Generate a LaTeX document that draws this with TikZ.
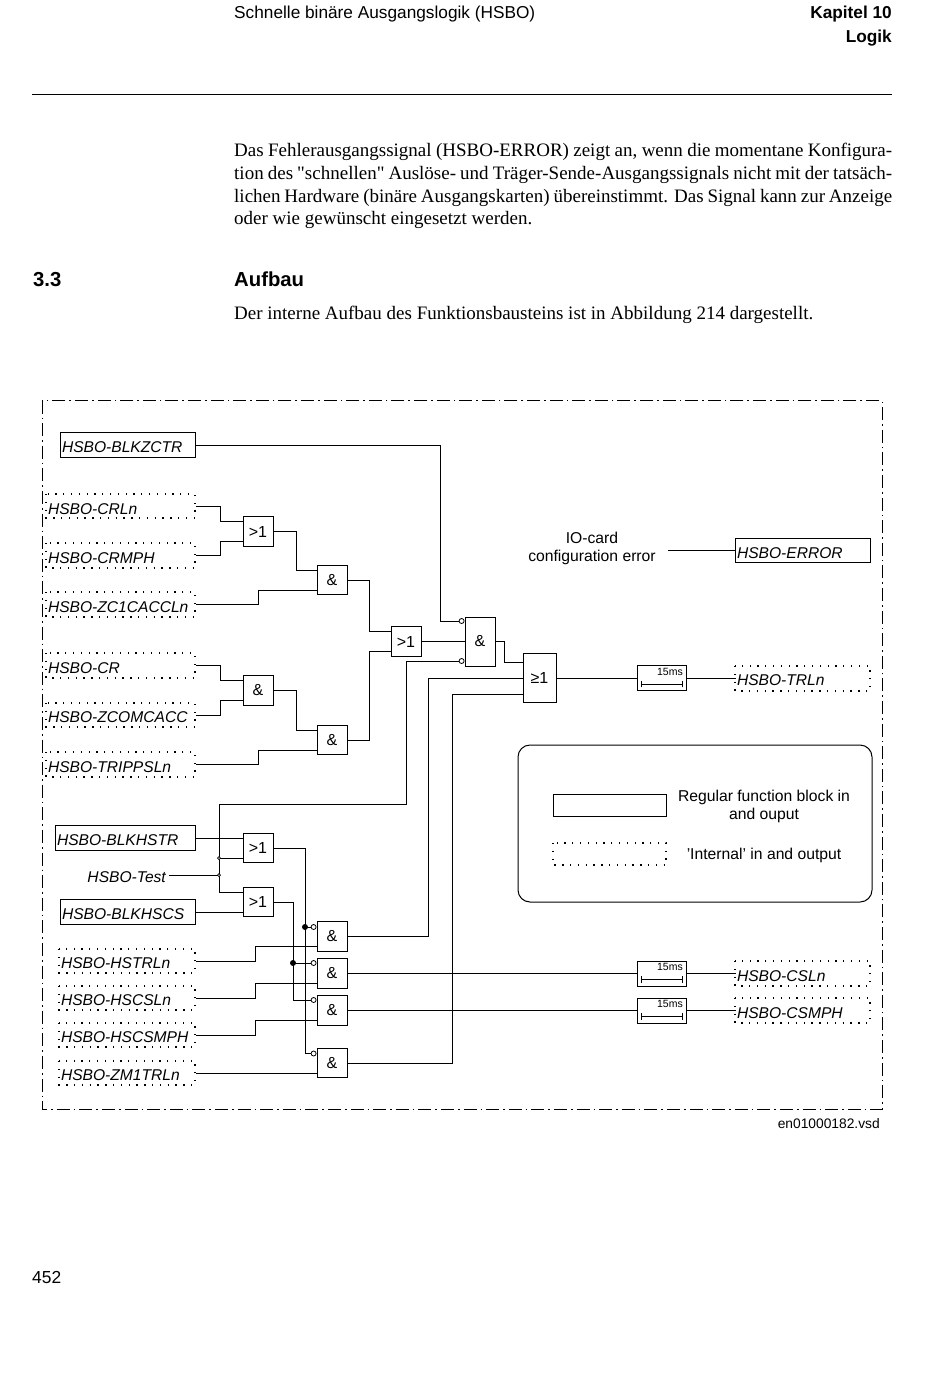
\documentclass[tikz,border=0pt]{standalone}
\usepackage{fontspec}
\setmainfont[Ligatures=TeXOff]{Liberation Serif}
\setsansfont{Liberation Sans}
\usepackage{tikz}
\usetikzlibrary{arrows,positioning}

\begin{document}
\begin{tikzpicture}[
x=1pt,y=-1pt,
font=\sffamily,
wire/.style={line width=1pt,line cap=rect},
gate/.style={draw,line width=1pt,minimum width=30pt,minimum height=29.5pt,inner sep=0pt,font=\sffamily\fontsize{16}{16}\selectfont},
tallgate/.style={gate,minimum height=49pt},
regblock/.style={draw,line width=1pt,anchor=west,minimum height=24.5pt,inner ysep=0pt,inner xsep=1.5pt,text width=#1-3pt,text height=15.2pt,text depth=0pt,align=left,font=\sffamily\itshape\fontsize{15.6}{15.6}\selectfont},
intblock/.style={regblock=#1,draw=none},
dotbox/.style={line width=1.2pt,dash pattern=on 1.3pt off 6.5pt},
timer/.style={draw,line width=1pt,minimum width=49pt,minimum height=25pt,inner sep=0pt},
timetext/.style={anchor=north east,inner sep=0pt,font=\sffamily\fontsize{10.5}{10.5}\selectfont},
timebar/.style={|-|,line width=0.7pt,>=stealth},
inv/.style={circle,draw,fill=white,line width=0.8pt,inner sep=0pt,minimum size=5pt,anchor=east},
opendot/.style={circle,draw,fill=white,line width=0.7pt,inner sep=0pt,minimum size=3pt},
soliddot/.style={circle,fill=black,inner sep=0pt,minimum size=6pt},
plain/.style={inner sep=0pt,font=\sffamily\fontsize{15.7}{18.5}\selectfont},
frame/.style={line width=1pt,dash pattern=on 13pt off 4pt on 1.6pt off 4pt}
]
    \useasboundingbox (0,0) rectangle (950,1378);

    % Page text
    \node (headleft) [anchor=base west,inner sep=0pt,font=\sffamily\fontsize{17.25}{17.25}\selectfont] at (234,18.5) {Schnelle binäre Ausgangslogik (HSBO)};
    \node (chapter) [anchor=base east,inner sep=0pt,font=\sffamily\bfseries\fontsize{17.25}{17.25}\selectfont] at (892,18.5) {Kapitel 10};
    \node (logic) [anchor=base east,inner sep=0pt,font=\sffamily\bfseries\fontsize{17.25}{17.25}\selectfont] at (892,42.5) {Logik};
    \draw[line width=1pt] (32,95) -- (892,95);

    \node (para) [anchor=north west,inner sep=0pt,text width=658pt,align=justify,font=\rmfamily\fontsize{19}{22.8}\selectfont] at (234,143) {Das Fehlerausgangssignal (HSBO-ERROR) zeigt an, wenn die momentane Konfigura-\linebreak tion des "schnellen" Auslöse- und Träger-Sende-Ausgangssignals nicht mit der tatsäch-\linebreak lichen Hardware (binäre Ausgangskarten) übereinstimmt. Das Signal kann zur Anzeige\newline oder wie gewünscht eingesetzt werden.};
    \node (secnum) [anchor=base west,inner sep=0pt,font=\sffamily\bfseries\fontsize{20.3}{20.3}\selectfont] at (33,286) {3.3};
    \node (sectitle) [anchor=base west,inner sep=0pt,font=\sffamily\bfseries\fontsize{20.3}{20.3}\selectfont] at (234,286) {Aufbau};
    \node (intro) [anchor=base west,inner sep=0pt,font=\rmfamily\fontsize{19}{22.8}\selectfont] at (234,319) {Der interne Aufbau des Funktionsbausteins ist in Abbildung 214 dargestellt.};
    \node (pagenum) [anchor=base west,inner sep=0pt,font=\sffamily\fontsize{17.4}{17.4}\selectfont] at (32,1283) {452};
    \node (vsd) [anchor=base east,inner sep=0pt,font=\sffamily\fontsize{13.8}{13.8}\selectfont] at (880,1128) {en01000182.vsd};

    % Outer frame
    \draw[frame] (42,400.5) rectangle (882,1109);

    % Inputs
    \node[regblock=135pt] (blkzctr) at (60,445) {HSBO-BLKZCTR};
    \node[intblock=149pt] (crln) at (46,506.5) {HSBO-CRLn};
    \node[intblock=149pt] (crmph) at (46,555.5) {HSBO-CRMPH};
    \node[intblock=149pt] (zcacc) at (46,604.5) {HSBO-ZC1CACCLn};
    \node[intblock=149pt] (cr) at (46,665.5) {HSBO-CR};
    \node[intblock=149pt] (zcom) at (46,715) {HSBO-ZCOMCACC};
    \node[intblock=149pt] (tripp) at (46,764.5) {HSBO-TRIPPSLn};
    \node[regblock=140pt] (blkhstr) at (55,838) {HSBO-BLKHSTR};
    \node[anchor=east,inner sep=0pt,font=\sffamily\itshape\fontsize{15.6}{15.6}\selectfont] (test) at (166,877) {HSBO-Test};
    \node[regblock=135pt] (blkhscs) at (60,912) {HSBO-BLKHSCS};
    \node[intblock=136pt] (hstrl) at (59,961) {HSBO-HSTRLn};
    \node[intblock=136pt] (hscsl) at (59,998) {HSBO-HSCSLn};
    \node[intblock=136pt] (hscsm) at (59,1035) {HSBO-HSCSMPH};
    \node[intblock=136pt] (zmtr) at (59,1073) {HSBO-ZM1TRLn};

    \draw[dotbox] (46,494) rectangle (195,518);
    \draw[dotbox] (46,543) rectangle (195,568);
    \draw[dotbox] (46,592) rectangle (195,617);
    \draw[dotbox] (46,653) rectangle (195,678);
    \draw[dotbox] (46,703) rectangle (195,727);
    \draw[dotbox] (46,752) rectangle (195,777);
    \draw[dotbox] (59,949) rectangle (195,973);
    \draw[dotbox] (59,986) rectangle (195,1010);
    \draw[dotbox] (59,1023) rectangle (195,1047);
    \draw[dotbox] (59,1061) rectangle (195,1085);

    % Gates
    \node[gate] (orA) at (258,531.5) {>1};
    \node[gate] (andA) at (332,580) {\&};
    \node[gate] (andB) at (258,690.5) {\&};
    \node[gate] (andC) at (332,740) {\&};
    \node[gate] (orB) at (406,641.5) {>1};
    \node[tallgate] (andD) at (480,641.5) {\&};
    \node[tallgate,minimum width=33pt] (geq) at (539.5,678) {≥1};
    \node[gate] (orC) at (258,848) {>1};
    \node[gate] (orD) at (258,902) {>1};
    \node[gate] (andE) at (332,936.5) {\&};
    \node[gate] (andF) at (332,973.5) {\&};
    \node[gate] (andG) at (332,1010.5) {\&};
    \node[gate] (andH) at (332,1063) {\&};

    % Timers
    \node[timer] (timerA) at (661.5,678) {};
    \node[timetext] (msA) at (683,668) {15ms};
    \draw[timebar] ([xshift=4pt,yshift=-6pt]timerA.west) -- ([xshift=-4pt,yshift=-6pt]timerA.east);
    \node[timer] (timerB) at (661.5,973.5) {};
    \node[timetext] (msB) at (683,963.5) {15ms};
    \draw[timebar] ([xshift=4pt,yshift=-6pt]timerB.west) -- ([xshift=-4pt,yshift=-6pt]timerB.east);
    \node[timer] (timerC) at (661.5,1010.5) {};
    \node[timetext] (msC) at (683,1000.5) {15ms};
    \draw[timebar] ([xshift=4pt,yshift=-6pt]timerC.west) -- ([xshift=-4pt,yshift=-6pt]timerC.east);

    % Outputs
    \node[regblock=135pt] (error) at (735,550.5) {HSBO-ERROR};
    \node[intblock=135pt] (trln) at (735,678) {HSBO-TRLn};
    \node[intblock=135pt] (csln) at (735,973.5) {HSBO-CSLn};
    \node[intblock=135pt] (csmph) at (735,1010.5) {HSBO-CSMPH};
    \draw[dotbox] (735,666) rectangle (870,691);
    \draw[dotbox] (735,961) rectangle (870,986);
    \draw[dotbox] (735,998) rectangle (870,1023);

    \node[plain,align=center] (iocard) at (592,548.5) {IO-card\\configuration error};

    % Inverted inputs and junctions
    \node[inv] (invA) at ([yshift=20.5pt]andD.west) {};
    \node[inv] (invB) at ([yshift=-19.5pt]andD.west) {};
    \node[inv] (invE) at ([yshift=9.5pt]andE.west) {};
    \node[inv] (invF) at ([yshift=10.5pt]andF.west) {};
    \node[inv] (invG) at ([yshift=10.5pt]andG.west) {};
    \node[inv] (invH) at ([yshift=9.5pt]andH.west) {};

    \coordinate (busA) at (219,804);
    \coordinate (busB) at (305,848);
    \coordinate (busC) at (293,902);
    \coordinate (ioend) at (668,550.5);

    % Wires, upper half
    \draw[wire] (blkzctr.east) -| (440,621) -- (invA.west);
    \draw[wire] (crln.east) -- ++(24,0) |- ([yshift=10pt]orA.west);
    \draw[wire] (crmph.east) -- ++(24,0) |- ([yshift=-10pt]orA.west);
    \draw[wire] (orA.east) -- ++(23,0) |- ([yshift=10pt]andA.west);
    \draw[wire] (zcacc.east) -- ++(62,0) |- ([yshift=-10pt]andA.west);
    \draw[wire] (cr.east) -- ++(24,0) |- ([yshift=10pt]andB.west);
    \draw[wire] (zcom.east) -- ++(24,0) |- ([yshift=-10pt]andB.west);
    \draw[wire] (andB.east) -- ++(23,0) |- ([yshift=10pt]andC.west);
    \draw[wire] (tripp.east) -- ++(62,0) |- ([yshift=-10pt]andC.west);
    \draw[wire] (andA.east) -- ++(22,0) |- ([yshift=10pt]orB.west);
    \draw[wire] (andC.east) -- ++(22,0) |- ([yshift=-10pt]orB.west);
    \draw[wire] (orB.east) -- (andD.west);
    \draw[wire] (andD.east) -- ++(9,0) |- ([yshift=16pt]geq.west);
    \draw[wire] (andE.east) -- ++(81,0) |- (geq.west);
    \draw[wire] (andH.east) -- ++(105,0) |- ([yshift=-16pt]geq.west);
    \draw[wire] (geq.east) -- (timerA.west);
    \draw[wire] (timerA.east) -- (trln.west);
    \draw[wire] (ioend) -- (error.west);

    % Wires, lower half
    \draw[wire] (invB.west) -| (406,804) -- (busA) |- ([yshift=10pt]orD.west);
    \draw[wire] (blkhstr.east) -- ([yshift=10pt]orC.west);
    \draw[wire] (219,858) -- ([yshift=-10pt]orC.west);
    \draw[wire] (test.east) ++(3,-2) -- (219,875);
    \draw[wire] (blkhscs.east) -- ([yshift=-10pt]orD.west);
    \draw[wire] (orC.east) -- (busB) |- (invH.west);
    \draw[wire] (orD.east) -- (busC) |- (invG.west);
    \draw[wire] (305,927) -- (invE.west);
    \draw[wire] (293,963) -- (invF.west);
    \draw[wire] (hstrl.east) -- ++(59,0) |- ([yshift=-10pt]andE.west);
    \draw[wire] (hscsl.east) -- ++(59,0) |- ([yshift=-10pt]andF.west);
    \draw[wire] (hscsm.east) -- ++(59,0) |- ([yshift=-10pt]andG.west);
    \draw[wire] (zmtr.east) -- ([yshift=-10pt]andH.west);
    \draw[wire] (andF.east) -- (timerB.west);
    \draw[wire] (timerB.east) -- (csln.west);
    \draw[wire] (andG.east) -- (timerC.west);
    \draw[wire] (timerC.east) -- (csmph.west);

    \node[opendot] (dotA) at (219,858) {};
    \node[opendot] (dotB) at (219,875) {};
    \node[soliddot] (dotC) at (305,927) {};
    \node[soliddot] (dotD) at (293,963) {};

    % Legend
    \draw[line width=1pt,rounded corners=12pt] (518,745) rectangle (872,902);
    \node[draw,line width=1pt,minimum width=113pt,minimum height=22pt,inner sep=0pt] (legreg) at (609.5,805) {};
    \draw[dotbox] (553,843) rectangle (666,865);
    \node[plain,align=center] (legregtext) at (764,806.5) {Regular function block in\\and ouput};
    \node[plain] (leginttext) at (764,855) {'Internal' in and output};

\end{tikzpicture}
\end{document}
